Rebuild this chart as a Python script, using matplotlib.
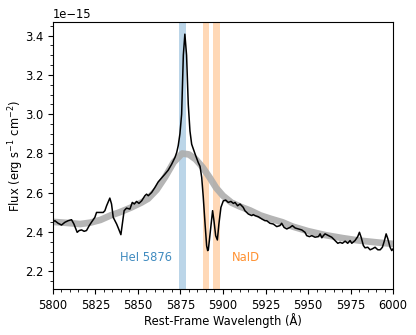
import numpy as np
import matplotlib
matplotlib.use('Agg')
import matplotlib.pyplot as plt
from matplotlib.ticker import AutoMinorLocator

# observed spectrum (flux in units of 1e-15)
wave = [5800.0, 5801.2, 5803.1, 5805.1, 5807.1, 5809.0, 5811.0, 5812.4, 5814.3, 5815.5,
        5816.9, 5818.4, 5819.8, 5821.4, 5822.7, 5824.7, 5825.7, 5827.6, 5829.6, 5830.6,
        5831.6, 5833.5, 5834.5, 5835.5, 5837.5, 5838.5, 5840.0, 5841.9, 5843.3, 5845.3,
        5846.7, 5847.9, 5849.2, 5850.6, 5852.2, 5854.1, 5855.1, 5856.1, 5858.1, 5860.0,
        5861.9, 5863.9, 5865.9, 5867.8, 5869.8, 5871.8, 5872.8, 5873.7, 5874.7, 5875.7,
        5876.7, 5877.6, 5878.6, 5879.6, 5880.6, 5881.6, 5883.5, 5885.5, 5886.5, 5887.5,
        5888.4, 5889.4, 5890.4, 5891.0, 5891.4, 5892.4, 5893.4, 5893.9, 5894.7, 5895.7,
        5896.7, 5897.6, 5898.8, 5900.2, 5901.6, 5903.1, 5904.7, 5906.1, 5907.1, 5908.6,
        5910.0, 5911.9, 5912.9, 5914.9, 5916.9, 5917.8, 5918.8, 5920.8, 5922.8, 5924.7,
        5925.7, 5927.6, 5929.6, 5931.6, 5933.5, 5934.5, 5935.9, 5937.5, 5939.4, 5940.8,
        5942.4, 5944.3, 5946.3, 5948.2, 5949.2, 5950.8, 5952.2, 5954.1, 5956.1, 5957.1,
        5958.1, 5959.0, 5960.0, 5962.0, 5963.9, 5965.9, 5967.5, 5968.8, 5970.2, 5971.8,
        5973.3, 5974.7, 5975.7, 5977.6, 5979.2, 5980.2, 5981.2, 5982.5, 5983.5, 5985.1,
        5986.5, 5987.8, 5989.4, 5991.0, 5992.4, 5993.7, 5994.9, 5995.9, 5996.9, 5998.2,
        5999.2, 6000.0]
flux = [2.452, 2.458, 2.445, 2.436, 2.450, 2.458, 2.463, 2.441, 2.399, 2.408,
        2.411, 2.404, 2.408, 2.433, 2.450, 2.475, 2.500, 2.500, 2.500, 2.509,
        2.534, 2.573, 2.543, 2.475, 2.441, 2.420, 2.387, 2.509, 2.522, 2.517,
        2.551, 2.543, 2.556, 2.546, 2.559, 2.585, 2.593, 2.585, 2.602, 2.627,
        2.655, 2.675, 2.695, 2.715, 2.745, 2.780, 2.805, 2.840, 2.900, 3.000,
        3.300, 3.407, 3.300, 3.050, 2.914, 2.847, 2.800, 2.753, 2.735, 2.678,
        2.580, 2.450, 2.330, 2.306, 2.310, 2.391, 2.475, 2.509, 2.458, 2.382,
        2.360, 2.441, 2.526, 2.559, 2.563, 2.551, 2.556, 2.546, 2.551, 2.534,
        2.543, 2.526, 2.509, 2.492, 2.484, 2.489, 2.484, 2.478, 2.467, 2.458,
        2.458, 2.445, 2.441, 2.428, 2.433, 2.445, 2.424, 2.416, 2.424, 2.433,
        2.421, 2.416, 2.411, 2.399, 2.382, 2.377, 2.382, 2.374, 2.377, 2.391,
        2.371, 2.382, 2.391, 2.382, 2.374, 2.357, 2.343, 2.348, 2.343, 2.354,
        2.343, 2.357, 2.343, 2.357, 2.377, 2.399, 2.374, 2.332, 2.320, 2.323,
        2.310, 2.315, 2.323, 2.310, 2.310, 2.323, 2.357, 2.391, 2.366, 2.323,
        2.306, 2.315]

# smooth model
model_wave = [5800, 5808, 5816, 5822, 5828, 5834, 5839, 5846, 5852, 5856, 5861, 5866,
              5871, 5876, 5880, 5884, 5888, 5892, 5896, 5900, 5905, 5910, 5916, 5922,
              5928, 5935, 5941, 5950, 5960, 5970, 5980, 5990, 6000]
model_flux = [2.452, 2.447, 2.441, 2.448, 2.462, 2.485, 2.500, 2.525, 2.550, 2.570, 2.615, 2.680,
              2.755, 2.800, 2.795, 2.770, 2.730, 2.680, 2.625, 2.585, 2.550, 2.530, 2.510, 2.485,
              2.468, 2.450, 2.428, 2.405, 2.385, 2.370, 2.357, 2.348, 2.340]

he_line = (5874, 5878)
na_lines = [(5888, 5892), (5894, 5898)]

plt.rcParams['font.size'] = 8.3
fig = plt.figure(figsize=(4.16, 3.35), dpi=100)
ax = fig.add_axes([0.127, 0.137, 0.818, 0.798])

ax.plot(model_wave, np.array(model_flux) * 1e-15, color='#adadad', lw=4.8, alpha=0.9)
ax.plot(wave, np.array(flux) * 1e-15, color='black', lw=1.1)

ax.axvspan(he_line[0], he_line[1], color='C0', alpha=0.3, lw=0)
for lo, hi in na_lines:
    ax.axvspan(lo, hi, color='C1', alpha=0.3, lw=0)

ax.text(5839.3, 2.272e-15, 'HeI 5876', color='C0', alpha=0.85, fontsize=8.3, va='center')
ax.text(5905.3, 2.272e-15, 'NaID', color='C1', alpha=0.85, fontsize=8.3, va='center')

ax.set_xlim(5800, 6000)
ax.set_ylim(2.11e-15, 3.47e-15)
ax.set_xticks([5800, 5825, 5850, 5875, 5900, 5925, 5950, 5975, 6000])
ax.xaxis.set_minor_locator(AutoMinorLocator(5))
ax.yaxis.set_minor_locator(AutoMinorLocator(4))
ax.set_xlabel('Rest-Frame Wavelength (Å)', labelpad=1)
ax.set_ylabel('Flux (erg s$^{-1}$ cm$^{-2}$)', labelpad=-1)

fig.savefig('out.png', dpi=100)
